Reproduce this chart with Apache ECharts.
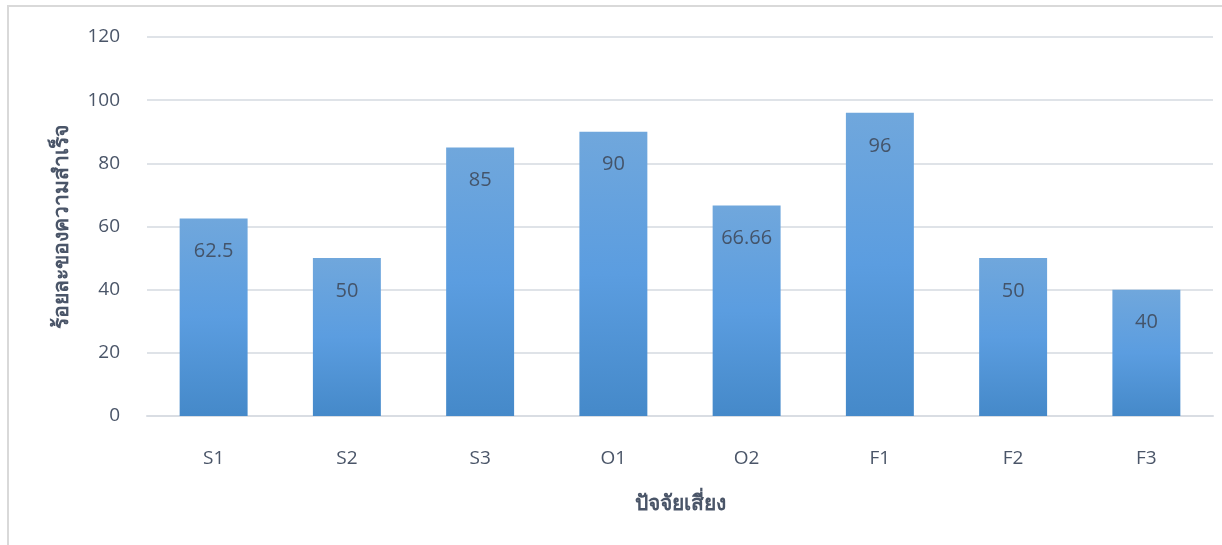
<!DOCTYPE html>
<html>
<head>
<meta charset="utf-8">
<script src="https://cdn.jsdelivr.net/npm/echarts@6/dist/echarts.min.js"></script>
<style>
html,body{margin:0;padding:0;background:#fff;}
#frame{position:absolute;left:7px;top:5px;width:1230px;height:560px;border:2px solid #d9d9d9;box-sizing:border-box;}
#chart{position:absolute;left:0;top:0;width:1222px;height:545px;}
</style>
</head>
<body>
<div id="frame"></div>
<div id="chart"></div>
<script>
var categories = ['S1','S2','S3','O1','O2','F1','F2','F3'];
var values = [62.5, 50, 85, 90, 66.66, 96, 50, 40];
var yTicks = [0, 20, 40, 60, 80, 100, 120];
var yTitle = 'ร้อยละของความสำเร็จ';
var xTitle = 'ปัจจัยเสี่ยง';

var txt = '#4a5568';
var font = '"Open Sans", "Noto Sans", sans-serif';
var chart = echarts.init(document.getElementById('chart'));
chart.setOption({
  animation: false,
  backgroundColor: 'transparent',
  grid: {left: 147, right: 9, top: 37, bottom: 129, containLabel: false},
  xAxis: {
    type: 'category',
    data: categories,
    name: xTitle,
    nameLocation: 'middle',
    nameGap: 78,
    nameTextStyle: {color: txt, fontSize: 21, fontWeight: 'bold', fontFamily: font},
    axisLine: {show: true, lineStyle: {color: '#d9dde3', width: 2}},
    axisTick: {show: false},
    axisLabel: {color: txt, fontSize: 19, margin: 33, fontFamily: font}
  },
  yAxis: {
    type: 'value',
    min: yTicks[0],
    max: yTicks[yTicks.length - 1],
    interval: 20,
    name: yTitle,
    nameLocation: 'middle',
    nameGap: 74,
    nameTextStyle: {color: txt, fontSize: 21, fontWeight: 'bold', fontFamily: font},
    axisLine: {show: false},
    axisTick: {show: false},
    axisLabel: {color: txt, fontSize: 19, margin: 27, fontFamily: font},
    splitLine: {lineStyle: {color: '#dfe3e8', width: 2}}
  },
  series: [{
    type: 'bar',
    data: values,
    barWidth: '51%',
    itemStyle: {
      color: new echarts.graphic.LinearGradient(0, 0, 0, 1, [
        {offset: 0, color: '#70a7dc'},
        {offset: 0.5, color: '#5b9de0'},
        {offset: 1, color: '#4589c9'}
      ])
    },
    label: {
      show: true,
      position: 'insideTop',
      distance: 23,
      color: '#44546a',
      fontSize: 20,
      fontFamily: font,
      formatter: function (p) { return String(p.value); }
    }
  }]
});
</script>
</body>
</html>
